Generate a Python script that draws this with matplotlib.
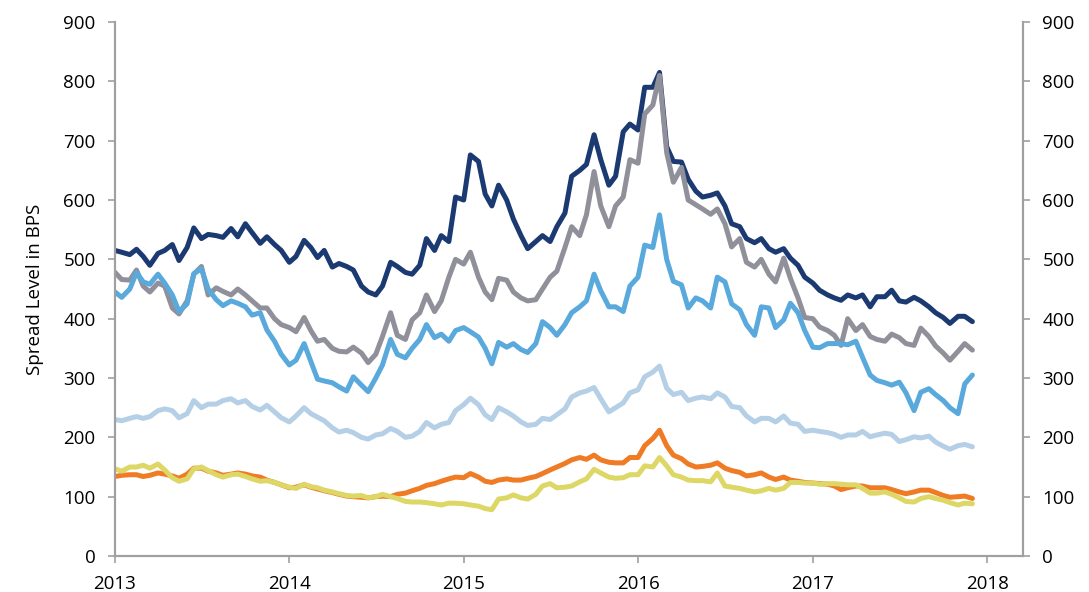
import numpy as np
import pandas as pd
import matplotlib
matplotlib.use('Agg')
import matplotlib.pyplot as plt
import matplotlib.dates as mdates

# semi-monthly observations, Jan 2013 - Dec 2017
dates = pd.date_range(start='2013-01-01', periods=119, freq='SMS')

navy = [515, 512, 508, 517, 505, 490, 510, 515, 525, 498, 520, 553, 535, 542, 540, 537, 552, 538, 560, 545,
        527, 538, 525, 515, 495, 505, 532, 520, 503, 515, 487, 493, 488, 482, 455, 445, 440, 455, 495, 488,
        478, 475, 490, 535, 515, 540, 530, 605, 600, 676, 665, 610, 590, 625, 600, 568, 540, 518, 530, 540,
        530, 555, 578, 640, 650, 660, 710, 668, 625, 640, 715, 728, 718, 790, 790, 815, 690, 665, 664, 635,
        615, 605, 608, 612, 590, 560, 555, 535, 528, 535, 518, 512, 518, 502, 490, 470, 460, 448, 440, 435,
        431, 440, 435, 440, 420, 437, 437, 448, 430, 428, 436, 430, 420, 410, 402, 392, 404, 404, 395]

gray = [478, 466, 465, 482, 455, 445, 460, 455, 418, 408, 430, 475, 488, 440, 452, 446, 440, 450, 440, 430,
        418, 418, 400, 390, 385, 378, 402, 380, 362, 365, 350, 345, 344, 352, 342, 326, 340, 370, 410, 372,
        365, 398, 410, 440, 412, 430, 470, 500, 492, 512, 470, 445, 432, 468, 465, 445, 435, 430, 432, 450,
        470, 480, 520, 555, 540, 575, 648, 590, 555, 590, 605, 668, 662, 745, 760, 810, 680, 630, 655, 600,
        592, 585, 576, 585, 560, 521, 535, 495, 487, 500, 475, 462, 502, 468, 435, 402, 400, 386, 380, 372,
        355, 400, 380, 390, 370, 365, 362, 374, 368, 358, 355, 384, 370, 354, 342, 330, 345, 358, 347]

mid_blue = [445, 436, 450, 478, 462, 458, 475, 460, 440, 412, 425, 476, 484, 450, 432, 422, 430, 426, 420, 406,
            410, 381, 362, 340, 322, 330, 358, 328, 298, 295, 292, 285, 278, 302, 288, 277, 300, 322, 365, 340,
            334, 350, 365, 390, 368, 374, 362, 380, 385, 378, 369, 350, 324, 360, 352, 358, 348, 343, 358, 395,
            385, 372, 390, 410, 420, 430, 475, 447, 420, 420, 412, 455, 470, 524, 520, 575, 500, 463, 457, 418,
            435, 430, 418, 470, 462, 425, 415, 390, 372, 420, 418, 385, 398, 426, 410, 380, 352, 351, 358, 358,
            358, 356, 362, 335, 305, 296, 292, 288, 293, 275, 245, 276, 282, 272, 262, 250, 240, 290, 305]

light_blue = [230, 228, 232, 235, 232, 235, 245, 248, 245, 233, 240, 262, 250, 256, 256, 262, 265, 258, 262, 252,
              246, 254, 243, 233, 226, 236, 250, 240, 234, 228, 216, 209, 212, 208, 200, 197, 204, 206, 215, 210,
              200, 202, 210, 225, 216, 222, 225, 245, 255, 266, 255, 238, 230, 250, 243, 236, 226, 220, 222, 232,
              230, 238, 248, 268, 275, 278, 284, 265, 243, 250, 258, 275, 280, 302, 310, 320, 283, 272, 276, 262,
              266, 268, 265, 275, 268, 252, 250, 236, 226, 232, 232, 226, 236, 224, 222, 210, 212, 210, 208, 205,
              200, 204, 204, 210, 201, 204, 207, 205, 193, 196, 201, 199, 202, 192, 185, 180, 186, 188, 184]

orange = [134, 136, 137, 137, 134, 136, 140, 138, 135, 131, 138, 148, 148, 143, 140, 136, 138, 140, 138, 135,
          133, 128, 124, 120, 115, 116, 120, 116, 113, 110, 107, 104, 101, 100, 99, 98, 100, 101, 100, 104,
          106, 110, 114, 119, 122, 126, 130, 133, 132, 139, 133, 126, 124, 128, 130, 128, 128, 131, 134, 139,
          145, 150, 156, 162, 166, 163, 170, 162, 158, 157, 157, 166, 166, 186, 198, 212, 186, 170, 164, 155,
          150, 151, 153, 157, 148, 144, 141, 135, 137, 140, 133, 129, 133, 128, 126, 124, 123, 122, 121, 118,
          112, 115, 118, 118, 115, 115, 115, 112, 108, 105, 108, 111, 111, 107, 102, 99, 100, 101, 97]

yellow = [147, 143, 150, 150, 153, 148, 155, 145, 132, 126, 130, 147, 150, 144, 137, 133, 137, 138, 134, 130,
          126, 127, 124, 120, 116, 114, 121, 117, 115, 111, 108, 105, 102, 101, 102, 98, 100, 104, 100, 97,
          92, 91, 91, 90, 88, 86, 89, 89, 88, 86, 84, 80, 78, 96, 98, 103, 98, 96, 104, 118,
          122, 115, 116, 118, 125, 130, 146, 140, 133, 131, 132, 137, 137, 152, 150, 166, 152, 137, 133, 128,
          127, 127, 125, 140, 118, 116, 114, 111, 108, 110, 114, 111, 114, 124, 124, 123, 123, 121, 122, 122,
          121, 120, 120, 114, 106, 106, 108, 104, 98, 92, 91, 97, 100, 97, 94, 90, 86, 89, 88]

series = [navy, gray, mid_blue, light_blue, orange, yellow]
colors = ['#1c3a72', '#8f9099', '#59a9dd', '#b5cfe6', '#f07b25', '#ddd766']

plt.rcParams['font.family'] = ['Open Sans', 'DejaVu Sans']

fig = plt.figure(figsize=(10.89, 5.92), dpi=100)
ax = fig.add_axes([0.1056, 0.0608, 0.8338, 0.902])

for vals, c in zip(series, colors):
    ax.plot(dates, vals, color=c, lw=3.6, solid_joinstyle='round', solid_capstyle='round')

ax.set_ylim(0, 900)
ax.set_xlim(pd.Timestamp('2013-01-01'), pd.Timestamp('2018-03-17'))
ax.set_yticks(np.arange(0, 901, 100))
ax.xaxis.set_major_locator(mdates.YearLocator())
ax.xaxis.set_major_formatter(mdates.DateFormatter('%Y'))

ax2 = ax.twinx()
ax2.set_ylim(0, 900)
ax2.set_yticks(np.arange(0, 901, 100))

spine_col = '#a0a0a0'
for a in (ax, ax2):
    for s in a.spines.values():
        s.set_color(spine_col)
        s.set_linewidth(1.5)
    a.spines['top'].set_visible(False)
    a.tick_params(colors=spine_col, labelcolor='black', labelsize=13.5, length=5, width=1.2, pad=9)

ax.set_ylabel('Spread Level in BPS', fontsize=13.5, labelpad=14)

plt.savefig('out.png', dpi=100)
